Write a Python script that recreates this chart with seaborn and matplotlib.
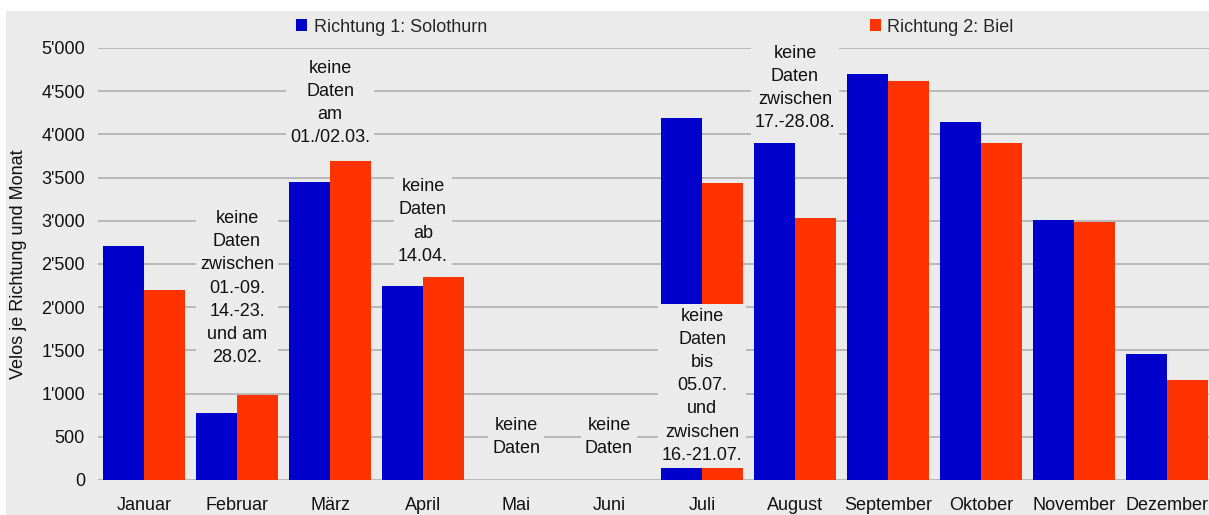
import pandas as pd
import matplotlib.pyplot as plt
import seaborn as sns
from matplotlib.patches import Rectangle
from matplotlib.ticker import FuncFormatter

months = ["Januar", "Februar", "März", "April", "Mai", "Juni",
          "Juli", "August", "September", "Oktober", "November", "Dezember"]
solothurn = [2705, 775, 3450, 2245, 0, 0, 4190, 3900, 4700, 4145, 3005, 1455]
biel = [2200, 985, 3695, 2350, 0, 0, 3440, 3030, 4620, 3900, 2990, 1160]
series = ["Richtung 1: Solothurn", "Richtung 2: Biel"]
notes = ["", "keine\nDaten\nzwischen\n01.-09.\n14.-23.\nund am\n28.02.",
         "keine\nDaten\nam\n01./02.03.", "keine\nDaten\nab\n14.04.",
         "keine\nDaten", "keine\nDaten",
         "keine\nDaten\nbis\n05.07.\nund\nzwischen\n16.-21.07.",
         "keine\nDaten\nzwischen\n17.-28.08.", "", "", "", ""]

df = pd.DataFrame({
    "Monat": months * 2,
    "Velos": solothurn + biel,
    "Richtung": [series[0]] * 12 + [series[1]] * 12,
})

BG = "#ebebeb"
FS = 13
sns.set_style("white", {"axes.facecolor": BG})
plt.rcParams["font.family"] = ["Liberation Sans", "DejaVu Sans"]
plt.rcParams["font.size"] = FS

fig = plt.figure(figsize=(12.09, 5.15), dpi=100, facecolor="white")
fig.patches.append(Rectangle((6 / 1209, 0), 1, 1 - 11 / 515, transform=fig.transFigure,
                             facecolor=BG, edgecolor="none", zorder=-10))
ax = fig.add_axes([97.5 / 1209, 35 / 515, 1116 / 1209, 432 / 515])

sns.barplot(data=df, x="Monat", y="Velos", hue="Richtung", order=months,
            palette=["#0000cc", "#ff3300"], saturation=1, width=0.88,
            linewidth=0, edgecolor="none", ax=ax)

ax.set_ylim(0, 5000)
ax.set_yticks(range(0, 5001, 500))
ax.yaxis.set_major_formatter(FuncFormatter(lambda v, p: f"{int(v):,}".replace(",", "'")))
ax.grid(axis="y", color="#b0b0b0", linewidth=1.2)
ax.set_axisbelow(True)
for s in ax.spines.values():
    s.set_visible(False)
ax.tick_params(length=0, labelsize=FS, colors="#111111")
ax.tick_params(axis="x", pad=12)
ax.tick_params(axis="y", pad=9)
ax.set_xlabel("")
ax.set_ylabel("Velos je Richtung und Monat", fontsize=FS, color="#111111", labelpad=10)

# vertical centre of each note, in data units
note_y = [0, 2222, 4363, 2992, 500, 500, 1090, 4535, 0, 0, 0, 0]
for i, txt in enumerate(notes):
    if txt:
        ax.text(i, note_y[i], txt, ha="center", va="center", fontsize=FS,
                color="#111111", linespacing=1.47, zorder=5,
                bbox=dict(facecolor=BG, edgecolor="none", pad=3))

handles, labels = ax.get_legend_handles_labels()
ax.get_legend().remove()
fig.legend(handles, labels, loc="center left", bbox_to_anchor=(296 / 1209, 1 - 27 / 515),
           ncol=2, frameon=False, borderpad=0, borderaxespad=0, handlelength=0.62,
           handleheight=0.62, handletextpad=0.35, columnspacing=21.2, fontsize=FS)

fig.savefig("out.png", dpi=100)
